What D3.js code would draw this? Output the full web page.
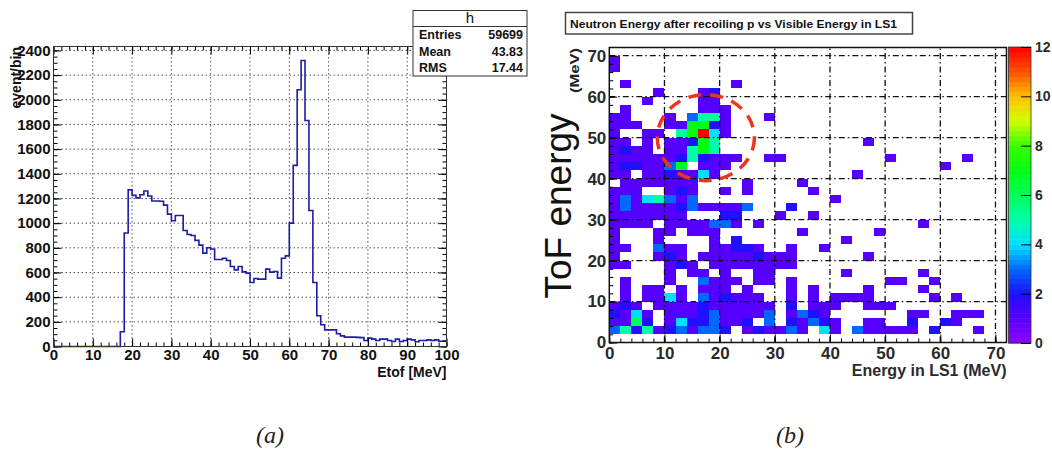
<!DOCTYPE html>
<html>
<head>
<meta charset="utf-8">
<title>Etof spectrum and ToF energy vs LS1 energy</title>
<script src="https://d3js.org/d3.v7.min.js"></script>
<style>
  body { margin: 0; background: #fff; }
  svg text { font-family: "Liberation Sans", Arial, sans-serif; }
  svg text.caption { font-family: "Liberation Serif", "DejaVu Serif", serif; font-style: italic; }
</style>
</head>
<body>
<div id="chart"></div>
<script>
// ---- (a) Etof histogram, 1 MeV bins from 0 to 100 ----
var etofBinWidth = 1;
var etofCounts = [
  0, 0, 0, 0, 0, 0, 0, 0, 0, 0,
  0, 0, 0, 0, 0, 0, 0, 120, 920, 1270,
  1225, 1205, 1230, 1260, 1220, 1180, 1180, 1178, 1146, 1073,
  1019, 1062, 1062, 940, 908, 900, 860, 822, 757, 800,
  790, 705, 705, 716, 697, 649, 621, 649, 605, 595,
  519, 551, 546, 546, 627, 603, 608, 554, 716, 735,
  1000, 1468, 2081, 2319, 1832, 1103, 519, 249, 176, 135,
  135, 135, 103, 86, 76, 76, 76, 74, 72, 49,
  68, 60, 49, 60, 60, 49, 40, 60, 40, 49,
  60, 54, 38, 49, 49, 54, 49, 54, 43, 43
];
var etofTicks = [0, 10, 20, 30, 40, 50, 60, 70, 80, 90, 100];
var countTicks = [0, 200, 400, 600, 800, 1000, 1200, 1400, 1600, 1800, 2000, 2200, 2400];
var statsTitle = "h";
var statsNames = ["Entries", "Mean", "RMS"];
var statsValues = ["59699", "43.83", "17.44"];

// ---- (b) ToF energy vs energy in LS1, 2 MeV bins, counts per cell ----
// one string per ToF row, top row (70-72 MeV) first; one hex digit per LS1 bin (0-72 MeV)
var tofBinWidth = 2;
var tofRows = [
  "000000000000000000000000000000000000",
  "100000000000000000000000000000000000",
  "100000000000000000000000000000000000",
  "000000000000000000000000000000000000",
  "010000000001000000000000000000000000",
  "000010001200000000000000000000000000",
  "000100001100000000000000000000000000",
  "010000001110000000000000000000000000",
  "110001035510001000000000000000000000",
  "111001177210000000000000000000000000",
  "10011057c41000000000000000000000000",
  "110101127500000000000001000000000000",
  "121101157500000000000000000000000000",
  "111111252111001100000000010000001000",
  "122113701110000000000000000000100000",
  "110112114100000000000010000000000000",
  "011111110000100001000000000000000000",
  "111001210010100000100000000000000000",
  "131453130000000000001000000000000000",
  "131111231111300020000000000000000000",
  "111111100022000100100000000000000000",
  "111101111331010000000000000010000000",
  "100011011100000001000000100000000000",
  "100010000102000000000100000000000000",
  "110031100112210010010000000000000000",
  "100012101111121110000001000000000000",
  "110001210111111110000000000000000000",
  "000001011010011000000100000010000000",
  "010001003111011010000000011001000000",
  "010110101110100010100001000010000000",
  "010114103121110010101111000001010000",
  "121011112111111020111001110000000000",
  "214101112311113013210000000110011100",
  "116201422311203021321001100200210000",
  "352512313320121131041031111102000100",
  "000000000000000000000000000000000000"
];
var energyTicks = [0, 10, 20, 30, 40, 50, 60, 70];
var zTicks = [0, 2, 4, 6, 8, 10, 12];
var plotTitle = "Neutron Energy after recoiling p vs Visible Energy in LS1";

// ROOT-like rainbow palette
var paletteStops = [0, 1, 2, 3, 4, 5, 6, 7, 8, 9, 10, 11, 12];
var paletteColors = ["#9000ff", "#5500ff", "#2010ff", "#0068ff", "#00e0ff", "#00ffa8",
                     "#00ff58", "#00ff10", "#38ff00", "#d0ff00", "#ffc000", "#ff5000", "#ff0000"];

var svg = d3.select("#chart").append("svg")
  .attr("width", 1052).attr("height", 452);

function styleAxis(g, size) {
  g.select(".domain").remove();
  g.attr("font-size", size).attr("font-weight", "bold");
  g.selectAll("line").attr("stroke", "#000");
  g.selectAll("text").attr("fill", "#111");
}

// ================= (a) =================
var xA = d3.scaleLinear().domain([0, 100]).range([53.5, 446.5]);
var yA = d3.scaleLinear().domain([0, 2432]).range([346.5, 46.5]);
var a = svg.append("g");

// grid
a.selectAll("line.gx").data(etofTicks.slice(1, -1)).enter().append("line")
  .attr("x1", function(d) { return xA(d); }).attr("x2", function(d) { return xA(d); })
  .attr("y1", yA.range()[0]).attr("y2", yA.range()[1])
  .attr("stroke", "#555").attr("stroke-width", 1).attr("stroke-dasharray", "1.5,2.5");
a.selectAll("line.gy").data(countTicks.slice(1)).enter().append("line")
  .attr("x1", xA.range()[0]).attr("x2", xA.range()[1])
  .attr("y1", function(d) { return yA(d); }).attr("y2", function(d) { return yA(d); })
  .attr("stroke", "#555").attr("stroke-width", 1).attr("stroke-dasharray", "1.5,2.5");

// histogram outline
var histPts = etofCounts.map(function(c, i) { return [i * etofBinWidth, c]; });
histPts.push([etofCounts.length * etofBinWidth, etofCounts[etofCounts.length - 1]]);
a.append("path")
  .attr("d", d3.line().x(function(d) { return xA(d[0]); }).y(function(d) { return yA(d[1]); })
    .curve(d3.curveStepAfter)(histPts))
  .attr("fill", "none").attr("stroke", "#1c1ca6").attr("stroke-width", 1.6);

// axes
var minorX = d3.range(0, 101, 2), minorY = d3.range(0, 2432, 50);
a.append("g").attr("transform", "translate(0," + yA(0) + ")")
  .call(d3.axisBottom(xA).tickValues(minorX).tickSize(-4).tickFormat(""))
  .call(function(g) { styleAxis(g, 14); });
a.append("g").attr("transform", "translate(0," + yA(0) + ")")
  .call(d3.axisBottom(xA).tickValues(etofTicks).tickSize(-8).tickPadding(3).tickFormat(d3.format("d")))
  .call(function(g) { styleAxis(g, 15); });
a.append("g").attr("transform", "translate(0," + yA.range()[1] + ")")
  .call(d3.axisTop(xA).tickValues(minorX).tickSize(-4).tickFormat(""))
  .call(function(g) { styleAxis(g, 14); });
a.append("g").attr("transform", "translate(0," + yA.range()[1] + ")")
  .call(d3.axisTop(xA).tickValues(etofTicks).tickSize(-8).tickFormat(""))
  .call(function(g) { styleAxis(g, 14); });
a.append("g").attr("transform", "translate(" + xA(0) + ",0)")
  .call(d3.axisLeft(yA).tickValues(minorY).tickSize(-4).tickFormat(""))
  .call(function(g) { styleAxis(g, 14); });
a.append("g").attr("transform", "translate(" + xA(0) + ",0)")
  .call(d3.axisLeft(yA).tickValues(countTicks).tickSize(-8).tickPadding(3).tickFormat(d3.format("d")))
  .call(function(g) { styleAxis(g, 15); });
a.append("g").attr("transform", "translate(" + xA(100) + ",0)")
  .call(d3.axisRight(yA).tickValues(minorY).tickSize(-4).tickFormat(""))
  .call(function(g) { styleAxis(g, 14); });
a.append("g").attr("transform", "translate(" + xA(100) + ",0)")
  .call(d3.axisRight(yA).tickValues(countTicks).tickSize(-8).tickFormat(""))
  .call(function(g) { styleAxis(g, 14); });

a.append("rect")
  .attr("x", xA(0)).attr("y", yA.range()[1])
  .attr("width", xA(100) - xA(0)).attr("height", yA(0) - yA.range()[1])
  .attr("fill", "none").attr("stroke", "#333").attr("stroke-width", 1);

a.append("text").attr("x", xA(100)).attr("y", 377).attr("text-anchor", "end")
  .attr("font-size", 14).attr("font-weight", "bold").attr("fill", "#111").text("Etof [MeV]");
a.append("text").attr("transform", "translate(21,47) rotate(-90)").attr("text-anchor", "end")
  .attr("font-size", 14).attr("font-weight", "bold").attr("fill", "#111").text("event/bin");

// stats box
var sb = a.append("g");
sb.append("rect").attr("x", 413).attr("y", 10.5).attr("width", 114).attr("height", 65.5)
  .attr("fill", "#fff").attr("stroke", "#333").attr("stroke-width", 1);
sb.append("line").attr("x1", 413).attr("x2", 527).attr("y1", 26.5).attr("y2", 26.5)
  .attr("stroke", "#333").attr("stroke-width", 1);
sb.append("text").attr("x", 470).attr("y", 23).attr("text-anchor", "middle")
  .attr("font-size", 15).attr("fill", "#111").text(statsTitle);
statsNames.forEach(function(n, i) {
  sb.append("text").attr("x", 419).attr("y", 39 + i * 16.5)
    .attr("font-size", 12.5).attr("font-weight", "bold").attr("fill", "#111").text(n);
  sb.append("text").attr("x", 523).attr("y", 39 + i * 16.5).attr("text-anchor", "end")
    .attr("font-size", 12.5).attr("font-weight", "bold").attr("fill", "#111").text(statsValues[i]);
});

// ================= (b) =================
var xB = d3.scaleLinear().domain([0, 72]).range([609.3, 1006.5]);
var yB = d3.scaleLinear().domain([0, 72]).range([342.5, 47.5]);
var zB = d3.scaleLinear().domain(paletteStops).range(paletteColors);
var b = svg.append("g");

var cells = [];
tofRows.forEach(function(row, r) {
  var iy = tofRows.length - 1 - r;
  row.split("").forEach(function(ch, ix) {
    var v = parseInt(ch, 16);
    if (v > 0) cells.push({ x: ix * tofBinWidth, y: iy * tofBinWidth, v: v });
  });
});

b.selectAll("rect.cell").data(cells).enter().append("rect")
  .attr("x", function(d) { return xB(d.x); })
  .attr("y", function(d) { return yB(d.y + tofBinWidth); })
  .attr("width", function(d) { return xB(d.x + tofBinWidth) - xB(d.x); })
  .attr("height", function(d) { return yB(d.y) - yB(d.y + tofBinWidth); })
  .attr("fill", function(d) { return zB(d.v); })
  .attr("shape-rendering", "crispEdges");

// grid
b.selectAll("line.gx").data(energyTicks.slice(1)).enter().append("line")
  .attr("x1", function(d) { return xB(d); }).attr("x2", function(d) { return xB(d); })
  .attr("y1", yB(0)).attr("y2", yB(72))
  .attr("stroke", "#111").attr("stroke-width", 1.3).attr("stroke-dasharray", "6,3,1.5,3");
b.selectAll("line.gy").data(energyTicks.slice(1)).enter().append("line")
  .attr("x1", xB(0)).attr("x2", xB(72))
  .attr("y1", function(d) { return yB(d); }).attr("y2", function(d) { return yB(d); })
  .attr("stroke", "#111").attr("stroke-width", 1.3).attr("stroke-dasharray", "6,3,1.5,3");

var minorE = d3.range(0, 72, 2);
b.append("g").attr("transform", "translate(0," + yB(0) + ")")
  .call(d3.axisBottom(xB).tickValues(minorE).tickSize(-4).tickFormat(""))
  .call(function(g) { styleAxis(g, 16); });
b.append("g").attr("transform", "translate(0," + yB(0) + ")")
  .call(d3.axisBottom(xB).tickValues(energyTicks).tickSize(-8).tickPadding(4).tickFormat(d3.format("d")))
  .call(function(g) { styleAxis(g, 17); g.selectAll("text").attr("fill", "#2a2a2a"); });
b.append("g").attr("transform", "translate(" + xB(0) + ",0)")
  .call(d3.axisLeft(yB).tickValues(minorE).tickSize(-4).tickFormat(""))
  .call(function(g) { styleAxis(g, 16); });
b.append("g").attr("transform", "translate(" + xB(0) + ",0)")
  .call(d3.axisLeft(yB).tickValues(energyTicks).tickSize(-8).tickPadding(3).tickFormat(d3.format("d")))
  .call(function(g) { styleAxis(g, 17); g.selectAll("text").attr("fill", "#2a2a2a"); });

b.append("rect")
  .attr("x", xB(0)).attr("y", yB(72))
  .attr("width", xB(72) - xB(0)).attr("height", yB(0) - yB(72))
  .attr("fill", "none").attr("stroke", "#111").attr("stroke-width", 1.5);

// highlighted cluster (annotation drawn in data units)
var ringCenter = [17.5, 50], ringRadius = [8.8, 10.5];
b.append("ellipse")
  .attr("cx", xB(ringCenter[0])).attr("cy", yB(ringCenter[1]))
  .attr("rx", xB(ringRadius[0]) - xB(0)).attr("ry", yB(0) - yB(ringRadius[1]))
  .attr("fill", "none").attr("stroke", "#f2331c").attr("stroke-width", 3.5)
  .attr("stroke-dasharray", "13,9");

// colour bar
var zY = d3.scaleLinear().domain([0, 12]).range([343, 47]);
var bands = d3.range(0, 12, 12 / 60);
b.selectAll("rect.band").data(bands).enter().append("rect")
  .attr("x", 1008.5).attr("width", 22.5)
  .attr("y", function(d) { return zY(d + 0.2); })
  .attr("height", function(d) { return zY(d) - zY(d + 0.2) + 0.5; })
  .attr("fill", function(d) { return zB(d + 0.1); });
b.append("rect").attr("x", 1008.5).attr("y", zY(12)).attr("width", 22.5).attr("height", zY(0) - zY(12))
  .attr("fill", "none").attr("stroke", "#333").attr("stroke-width", 0.8);
b.append("g").attr("transform", "translate(1031,0)")
  .call(d3.axisRight(zY).tickValues(zTicks).tickSize(-10).tickPadding(4).tickFormat(d3.format("d")))
  .call(function(g) { styleAxis(g, 14); g.selectAll("text").attr("fill", "#2a2a2a"); });

// titles
b.append("rect").attr("x", 565.5).attr("y", 12.5).attr("width", 347).attr("height", 21.5)
  .attr("fill", "#fff").attr("stroke", "#444").attr("stroke-width", 1.5);
b.append("text").attr("x", 570).attr("y", 27.5)
  .attr("font-size", 10).attr("font-weight", "bold").attr("fill", "#111")
  .attr("textLength", 327).attr("lengthAdjust", "spacingAndGlyphs").text(plotTitle);
b.append("text").attr("x", xB(72)).attr("y", 376).attr("text-anchor", "end")
  .attr("font-size", 16).attr("font-weight", "bold").attr("fill", "#2a2a2a").text("Energy in LS1 (MeV)");
b.append("text").attr("transform", "translate(571,206) rotate(-90)").attr("text-anchor", "middle")
  .attr("font-size", 37).attr("fill", "#111").text("ToF energy");
b.append("text").attr("transform", "translate(579,93) rotate(-90)")
  .attr("font-size", 12).attr("font-weight", "bold").attr("fill", "#222")
  .attr("textLength", 45).attr("lengthAdjust", "spacingAndGlyphs").text("(MeV)");

// panel captions
svg.append("text").attr("class", "caption").attr("x", 270).attr("y", 443).attr("text-anchor", "middle")
  .attr("font-size", 24).attr("fill", "#222").text("(a)");
svg.append("text").attr("class", "caption").attr("x", 790).attr("y", 443).attr("text-anchor", "middle")
  .attr("font-size", 24).attr("fill", "#222").text("(b)");
</script>
</body>
</html>
